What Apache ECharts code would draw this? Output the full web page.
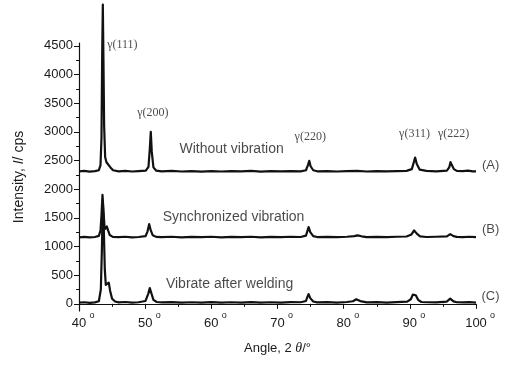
<!DOCTYPE html>
<html><head><meta charset="utf-8">
<script src="https://cdn.jsdelivr.net/npm/echarts@6/dist/echarts.min.js"></script>
<style>html,body{margin:0;padding:0;background:#fff}#c{width:505px;height:365px}</style>
</head><body><div id="c"></div>
<script>
// XRD patterns: [2θ angle, intensity (cps, offset as plotted)]
const seriesA = [[40,2310],[40.8,2318],[41.6,2306],[42.4,2314],[43.0,2330],[43.25,2420],[43.4,2900],[43.5,4300],[43.6,5220],[43.7,4200],[43.8,3100],[43.95,2560],[44.15,2470],[44.45,2450],[44.75,2380],[45.15,2330],[46,2312],[47,2318],[48,2308],[49,2315],[50.1,2322],[50.5,2390],[50.7,2700],[50.85,3000],[51.0,2650],[51.25,2380],[51.65,2325],[52.5,2312],[54,2318],[55.5,2308],[57,2316],[58.5,2306],[60,2314],[61.5,2308],[63,2316],[64.5,2310],[66,2318],[67.5,2306],[69,2314],[70.5,2310],[72,2316],[73.5,2312],[74.3,2330],[74.6,2420],[74.8,2494],[75.0,2400],[75.4,2330],[76,2312],[77.5,2316],[79,2308],[80.5,2314],[82,2318],[83.5,2308],[85,2314],[86.5,2310],[88,2316],[89.5,2320],[90.3,2350],[90.6,2470],[90.8,2550],[91.05,2440],[91.5,2340],[92.5,2318],[94,2312],[95.6,2325],[95.95,2380],[96.15,2472],[96.35,2420],[96.65,2350],[97.1,2320],[98,2315],[98.8,2325],[99.5,2312],[100,2310]];
const seriesB = [[40,1160],[40.8,1168],[41.6,1158],[42.4,1166],[43.0,1185],[43.25,1280],[43.4,1550],[43.55,1900],[43.7,1620],[43.85,1350],[44.0,1310],[44.2,1350],[44.4,1280],[44.65,1200],[45.1,1168],[46,1162],[47,1170],[48,1160],[49,1166],[50.05,1180],[50.35,1260],[50.6,1390],[50.85,1280],[51.15,1195],[51.65,1168],[52.5,1162],[54,1170],[55.5,1160],[57,1168],[58.5,1162],[60,1170],[61.5,1160],[63,1168],[64.5,1162],[66,1170],[67.5,1160],[69,1168],[70.5,1162],[72,1170],[73.5,1166],[74.3,1190],[74.55,1280],[74.7,1338],[74.95,1250],[75.4,1180],[76,1165],[77.5,1168],[79,1162],[80.5,1170],[81.6,1180],[82.1,1195],[82.7,1178],[83.5,1164],[85,1168],[86.5,1162],[88,1170],[89.5,1175],[90.25,1210],[90.65,1280],[91.05,1225],[91.55,1178],[92.5,1166],[94,1170],[95.6,1178],[96.1,1216],[96.6,1180],[97.1,1168],[98,1165],[99,1170],[100,1162]];
const seriesC = [[40,20],[40.8,28],[41.6,16],[42.4,26],[43.0,45],[43.3,250],[43.45,900],[43.6,1800],[43.75,1300],[43.9,600],[44.05,330],[44.25,320],[44.5,370],[44.7,230],[45.0,90],[45.45,40],[46,25],[47,32],[48,20],[49,28],[50.05,50],[50.45,170],[50.7,275],[50.95,180],[51.25,70],[51.75,32],[52.5,24],[54,30],[55.5,20],[57,28],[58.5,22],[60,30],[61.5,20],[63,28],[64.5,22],[66,30],[67.5,20],[69,28],[70.5,22],[72,30],[73.5,28],[74.3,50],[74.55,130],[74.7,170],[74.95,100],[75.4,40],[76,25],[77.5,30],[79,22],[80.5,32],[81.4,45],[81.9,80],[82.5,48],[83.5,26],[85,30],[86.5,22],[88,30],[89.6,38],[90.15,80],[90.45,160],[90.65,187],[90.9,150],[91.25,70],[91.75,32],[92.5,28],[94,24],[95.6,40],[96.1,92],[96.6,42],[97.1,28],[98,24],[99,30],[100,22]];

const xTicks = [40, 50, 60, 70, 80, 90, 100];
const yTicks = [0, 500, 1000, 1500, 2000, 2500, 3000, 3500, 4000, 4500];
const yMinorTicks = [250, 750, 1250, 1750, 2250, 2750, 3250, 3750, 4250];

// annotations: [angle, intensity, text]
const peakLabels = [[46.55, 4520, 'γ(111)'], [51.17, 3333, 'γ(200)'], [74.95, 2914, 'γ(220)'], [90.71, 2967, 'γ(311)'], [96.62, 2967, 'γ(222)']];
const curveLabels = [[63.06, 2705, 'Without vibration'], [63.36, 1518, 'Synchronized vibration'], [62.76, 349, 'Vibrate after welding']];
const curveTags = [[102.2, 2408, '(A)'], [102.2, 1291, '(B)'], [102.2, 127, '(C)']];

const chart = echarts.init(document.getElementById('c'), null, {renderer: 'canvas'});
const txt = '#1a1a1a';
const sans = 'Liberation Sans';
const lineStyle = {color: '#111', width: 2.2, join: 'round'};
function curve(d) {
  return {type: 'line', data: d, symbol: 'none', clip: false, lineStyle: lineStyle, silent: true, animation: false};
}
function labelSeries(list, font, size) {
  return {
    type: 'scatter', symbolSize: 0, clip: false, silent: true, animation: false,
    data: list.map(r => ({value: [r[0], r[1]], name: r[2]})),
    label: {show: true, position: 'inside', formatter: p => p.name, color: txt, fontFamily: font, fontSize: size}
  };
}
chart.setOption({
  animation: false,
  grid: {left: 79, right: 29, top: 43, bottom: 54, containLabel: false},
  xAxis: [{
    type: 'value', min: 40, max: 100, interval: 10,
    axisLine: {show: true, lineStyle: {color: '#111', width: 1.2}},
    axisTick: {show: true, length: 5, lineStyle: {color: '#111'}},
    minorTick: {show: true, splitNumber: 2, length: 3, lineStyle: {color: '#111'}},
    splitLine: {show: false}, minorSplitLine: {show: false},
    axisLabel: {color: txt, fontFamily: sans, fontSize: 13, margin: 6,
      customValues: xTicks, formatter: v => String(v)},
    name: 'Angle, 2 {t|θ}/°', nameLocation: 'middle', nameGap: 30,
    nameTextStyle: {color: txt, fontFamily: sans, fontSize: 13,
      rich: {t: {fontStyle: 'italic', fontFamily: 'Liberation Serif', fontSize: 14, color: txt}}}
  }, {
    type: 'value', min: 40, max: 100, interval: 10, position: 'bottom',
    axisLine: {show: false}, axisTick: {show: false}, splitLine: {show: false},
    axisLabel: {margin: 0, color: txt, fontFamily: sans, fontSize: 9,
      formatter: v => v === 100 ? '{e|o}' : '{d|o}',
      rich: {d: {padding: [0, 0, 0, 26], fontSize: 9, color: txt}, e: {padding: [0, 0, 0, 33], fontSize: 9, color: txt}}}
  }],
  yAxis: [{
    type: 'value', min: -125, max: 4550,
    axisLine: {show: true, lineStyle: {color: '#111', width: 1.2}},
    axisTick: {show: true, length: 5, customValues: yTicks, lineStyle: {color: '#111'}},
    splitLine: {show: false},
    axisLabel: {color: txt, fontFamily: sans, fontSize: 13, margin: 6, customValues: yTicks, formatter: v => String(v)},
    name: 'Intensity, {i|I}/ cps', nameLocation: 'middle', nameGap: 53, nameRotate: 90,
    nameTextStyle: {color: txt, fontFamily: sans, fontSize: 14,
      rich: {i: {fontStyle: 'italic', fontFamily: sans, fontSize: 14, color: txt}}}
  }, {
    type: 'value', min: -125, max: 4550, position: 'left',
    axisLine: {show: false}, splitLine: {show: false},
    axisTick: {show: true, length: 3, customValues: yMinorTicks, lineStyle: {color: '#111'}},
    axisLabel: {show: false}
  }],
  series: [
    curve(seriesA), curve(seriesB), curve(seriesC),
    labelSeries(peakLabels, 'Liberation Serif', 12),
    labelSeries(curveLabels, sans, 14),
    labelSeries(curveTags, sans, 13)
  ]
});
</script></body></html>
